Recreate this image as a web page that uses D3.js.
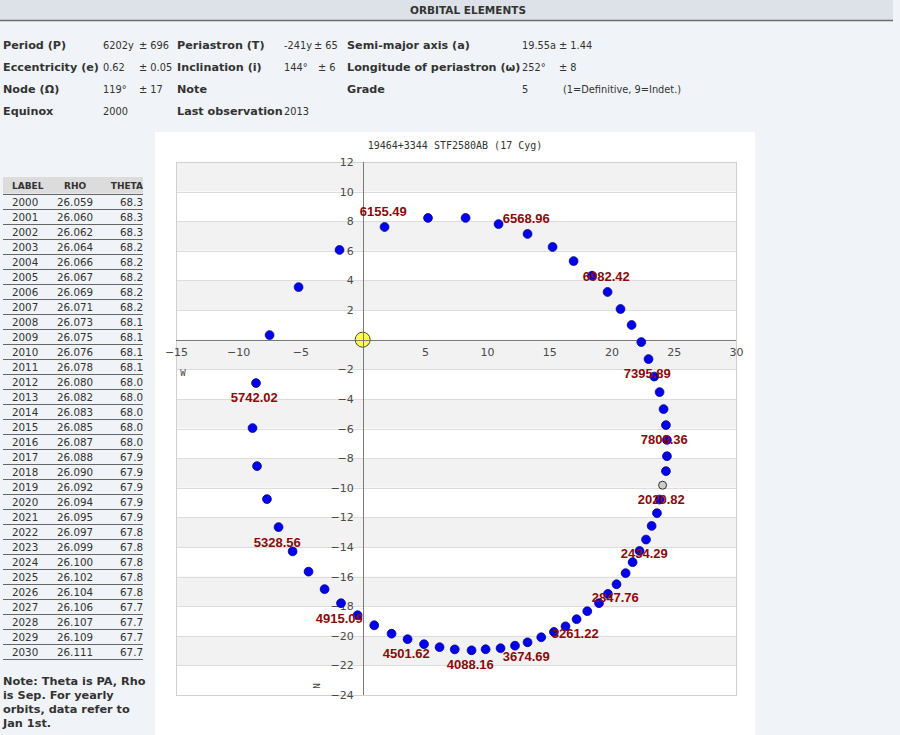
<!DOCTYPE html>
<html><head><meta charset="utf-8">
<script src="https://cdn.jsdelivr.net/npm/d3@7/dist/d3.min.js"></script>
<style>
body{margin:0;background:#f0f3f8;overflow:hidden}
svg{display:block}
</style></head>
<body>
<svg id="c" width="900" height="735"></svg>
<script>
// ---------- data ----------
const elemRow1 = ["Period (P)", "6202y", "± 696", "Periastron (T)", "-241y", "± 65", "Semi-major axis (a)", "19.55a", "± 1.44"];
const elemRow2 = ["Eccentricity (e)", "0.62", "± 0.05", "Inclination (i)", "144°", "± 6", "Longitude of periastron (ω)", "252°", "± 8"];
const elemRow3 = ["Node (Ω)", "119°", "± 17", "Note", "", "", "Grade", "5", "(1=Definitive, 9=Indet.)"];
const elemRow4 = ["Equinox", "2000", "", "Last observation", "2013", "", "", "", ""];

const tableYears = d3.range(2000, 2031);
const tableRho = ["26.059","26.060","26.062","26.064","26.066","26.067","26.069","26.071","26.073","26.075","26.076","26.078","26.080","26.082","26.083","26.085","26.087","26.088","26.090","26.092","26.094","26.095","26.097","26.099","26.100","26.102","26.104","26.106","26.107","26.109","26.111"];
const tableTheta = ["68.3","68.3","68.3","68.2","68.2","68.2","68.2","68.2","68.1","68.1","68.1","68.1","68.0","68.0","68.0","68.0","68.0","67.9","67.9","67.9","67.9","67.9","67.8","67.8","67.8","67.8","67.8","67.7","67.7","67.7","67.7"];
const noteLines = ["Note: Theta is PA, Rho", "is Sep. For yearly", "orbits, data refer to", "Jan 1st."];

const chartTitle = "19464+3344 STF2580AB (17 Cyg)";
const orbitX = [-7.48,-5.15,-1.86,1.76,5.25,8.27,10.92,13.25,15.26,16.95,18.43,19.68,20.72,21.61,22.39,22.97,23.43,23.86,24.18,24.37,24.45,24.45,24.37,23.86,23.65,23.22,22.77,22.25,21.69,21.13,20.40,19.71,18.99,18.05,17.19,16.30,15.37,14.35,13.25,12.24,11.08,9.88,8.75,7.40,6.18,4.93,3.61,2.32,0.93,-0.41,-1.74,-3.06,-4.35,-5.63,-6.76,-7.69,-8.49,-8.85,-8.57];
const orbitY = [0.31,3.55,6.06,7.61,8.22,8.22,7.81,7.14,6.26,5.31,4.32,3.22,2.07,0.99,-0.16,-1.31,-2.49,-3.54,-4.69,-5.77,-6.77,-7.87,-8.88,-10.80,-11.72,-12.58,-13.50,-14.27,-15.03,-15.77,-16.52,-17.17,-17.80,-18.34,-18.88,-19.36,-19.74,-20.10,-20.44,-20.67,-20.84,-20.91,-20.98,-20.92,-20.77,-20.57,-20.23,-19.86,-19.29,-18.61,-17.80,-16.85,-15.67,-14.30,-12.66,-10.77,-8.54,-5.97,-2.93];
const currentX = [24.10];
const currentY = [-9.83];
const epochLabels = ["6155.49","6568.96","6982.42","7395.89","7809.36","2020.82","2434.29","2847.76","3261.22","3674.69","4088.16","4501.62","4915.09","5328.56","5742.02"];
const epochX = [1.66,13.15,19.58,22.87,24.24,24.0,22.63,20.30,17.08,13.15,8.65,3.50,-1.88,-6.86,-8.71];
const epochY = [8.64,8.17,4.25,-2.31,-6.77,-10.82,-14.46,-17.44,-19.87,-21.43,-21.97,-21.23,-18.81,-13.68,-3.91];
const xTicks = [-15,-10,-5,5,10,15,20,25,30];
const yTicks = [12,10,8,6,4,2,-2,-4,-6,-8,-10,-12,-14,-16,-18,-20,-22,-24];

// ---------- page ----------
const svg = d3.select("#c");
const sans = "Verdana, 'DejaVu Sans', sans-serif";

svg.append("rect").attr("x",0).attr("y",0).attr("width",893).attr("height",20).attr("fill","#dde2e9");
svg.append("line").attr("x1",0).attr("x2",893).attr("y1",20.5).attr("y2",20.5).attr("stroke","#6d6d6d").attr("stroke-width",1.5);
svg.append("text").attr("x",468).attr("y",14).attr("text-anchor","middle")
  .attr("font-family",sans).attr("font-weight","bold").attr("font-size",10.5).attr("fill","#333").text("ORBITAL ELEMENTS");

const rows = [elemRow1, elemRow2, elemRow3, elemRow4];
const colX = [3,103,139,177,284,314,347,522,559];
const rowY = [45,67,89,111];
rows.forEach((r,i)=>{
  r.forEach((t,j)=>{
    if(!t) return;
    let x = colX[j];
    if(i===1 && j===5) x = 318;
    if(i===2 && j===8) x = 563;
    const bold = (j%3===0);
    svg.append("text").attr("x",x).attr("y",rowY[i]).attr("dominant-baseline","central")
      .attr("font-family",sans).attr("font-size",bold?11.2:9.8).attr("font-weight",bold?"bold":"normal")
      .attr("fill","#333").text(t);
  });
});

// table
const tg = svg.append("g");
tg.append("rect").attr("x",3).attr("y",177).attr("width",140).attr("height",16.5).attr("fill","#dcdcdc");
[["LABEL",12,"start"],["RHO",64,"start"],["THETA",143,"end"]].forEach(h=>{
  tg.append("text").attr("x",h[1]).attr("y",185.5).attr("dominant-baseline","central").attr("text-anchor",h[2])
    .attr("font-family",sans).attr("font-weight","bold").attr("font-size",9).attr("fill","#333").text(h[0]);
});
tableYears.forEach((yr,i)=>{
  const cy = 201.5 + 15*i;
  tg.append("line").attr("x1",3).attr("x2",143).attr("y1",194+15*i+0.5).attr("y2",194+15*i+0.5).attr("stroke","#666");
  tg.append("text").attr("x",12).attr("y",cy).attr("dominant-baseline","central").attr("font-family",sans).attr("font-size",10.3).attr("fill","#333").text(yr);
  tg.append("text").attr("x",57).attr("y",cy).attr("dominant-baseline","central").attr("font-family",sans).attr("font-size",10.3).attr("fill","#333").text(tableRho[i]);
  tg.append("text").attr("x",143).attr("y",cy).attr("text-anchor","end").attr("dominant-baseline","central").attr("font-family",sans).attr("font-size",10.3).attr("fill","#333").text(tableTheta[i]);
});
tg.append("line").attr("x1",3).attr("x2",143).attr("y1",659.5).attr("y2",659.5).attr("stroke","#666");
noteLines.forEach((t,i)=>{
  tg.append("text").attr("x",3).attr("y",681+14*i).attr("dominant-baseline","central")
    .attr("font-family",sans).attr("font-weight","bold").attr("font-size",11.3).attr("fill","#333").text(t);
});

// chart panel
svg.append("rect").attr("x",155).attr("y",132).attr("width",600).attr("height",603).attr("fill","#fff");
svg.append("text").attr("x",455).attr("y",145).attr("text-anchor","middle").attr("dominant-baseline","central")
  .attr("font-family","'DejaVu Sans Mono', monospace").attr("font-size",10).attr("fill","#333").text(chartTitle);

const x = d3.scaleLinear().domain([-15,30]).range([176,736]);
const y = d3.scaleLinear().domain([-24,12]).range([695,162]);

const plot = svg.append("g");
// bands
d3.range(12,-24,-2).forEach(v=>{
  plot.append("rect").attr("x",x(-15)).attr("y",y(v)).attr("width",x(30)-x(-15)).attr("height",y(v-2)-y(v))
    .attr("fill", (((12-v)/2)%2===0) ? "#f2f2f2" : "#ffffff");
});
// grid lines
d3.range(-24,13,2).forEach(v=>{
  plot.append("line").attr("x1",x(-15)).attr("x2",x(30)).attr("y1",Math.round(y(v))+0.5).attr("y2",Math.round(y(v))+0.5)
    .attr("stroke","#dcdcdc");
});
plot.append("rect").attr("x",x(-15)+0.5).attr("y",y(12)+0.5).attr("width",x(30)-x(-15)).attr("height",y(-24)-y(12))
  .attr("fill","none").attr("stroke","#d0d0d0");
// axis lines
plot.append("line").attr("x1",x(-15)).attr("x2",x(30)).attr("y1",Math.round(y(0))+0.5).attr("y2",Math.round(y(0))+0.5).attr("stroke","#7a7a7a");
plot.append("line").attr("x1",Math.round(x(0))+0.5).attr("x2",Math.round(x(0))+0.5).attr("y1",y(12)).attr("y2",y(-24)).attr("stroke","#7a7a7a");

// axes labels
const ya = plot.append("g").attr("transform",`translate(${x(0)},0)`)
  .call(d3.axisLeft(y).tickValues(yTicks).tickSize(0).tickPadding(9).tickFormat(d3.format("d")));
ya.select(".domain").remove();
ya.selectAll("text").attr("font-family","'DejaVu Sans', sans-serif").attr("font-size",11).attr("fill","#4a4a4a");
const xa = plot.append("g").attr("transform",`translate(0,${y(0)})`)
  .call(d3.axisBottom(x).tickValues(xTicks).tickSize(0).tickPadding(9).tickFormat(d3.format("d")));
xa.select(".domain").remove();
xa.selectAll("text").attr("font-family","'DejaVu Sans', sans-serif").attr("font-size",11).attr("fill","#4a4a4a");

// W and N markers
plot.append("text").attr("x",183).attr("y",373).attr("text-anchor","middle").attr("dominant-baseline","central")
  .attr("font-family","'DejaVu Sans Mono', monospace").attr("font-size",9).attr("fill","#444").text("W");
plot.append("text").attr("transform","translate(316,686) rotate(90)").attr("text-anchor","middle").attr("dominant-baseline","central")
  .attr("font-family","'DejaVu Sans Mono', monospace").attr("font-size",9).attr("fill","#444").text("N");

// origin star
plot.append("circle").attr("cx",x(0)).attr("cy",y(0)).attr("r",7.5).attr("fill","#ffff44").attr("stroke","#444");
plot.append("line").attr("x1",x(0)-7).attr("x2",x(0)+7).attr("y1",Math.round(y(0))+0.5).attr("y2",Math.round(y(0))+0.5).attr("stroke","#7a7a7a");
plot.append("line").attr("x1",Math.round(x(0))+0.5).attr("x2",Math.round(x(0))+0.5).attr("y1",y(0)-7).attr("y2",y(0)+7).attr("stroke","#7a7a7a");

// orbit points
plot.selectAll("circle.o").data(orbitX.map((v,i)=>[v,orbitY[i]])).enter().append("circle").attr("class","o")
  .attr("cx",d=>x(d[0])).attr("cy",d=>y(d[1])).attr("r",4.4).attr("fill","#0000ee").attr("stroke","#000088").attr("stroke-width",0.8);
plot.selectAll("circle.cur").data(currentX.map((v,i)=>[v,currentY[i]])).enter().append("circle").attr("class","cur")
  .attr("cx",d=>x(d[0])).attr("cy",d=>y(d[1])).attr("r",4).attr("fill","#cccccc").attr("stroke","#333");

// epoch labels
plot.selectAll("text.ep").data(epochLabels).enter().append("text").attr("class","ep")
  .attr("x",(d,i)=>x(epochX[i])).attr("y",(d,i)=>y(epochY[i])).attr("text-anchor","middle").attr("dominant-baseline","central")
  .attr("font-family","'Liberation Sans', Arial, sans-serif").attr("font-weight","bold").attr("font-size",13)
  .attr("fill","#8b0a0a").text(d=>d);
</script>
</body></html>
